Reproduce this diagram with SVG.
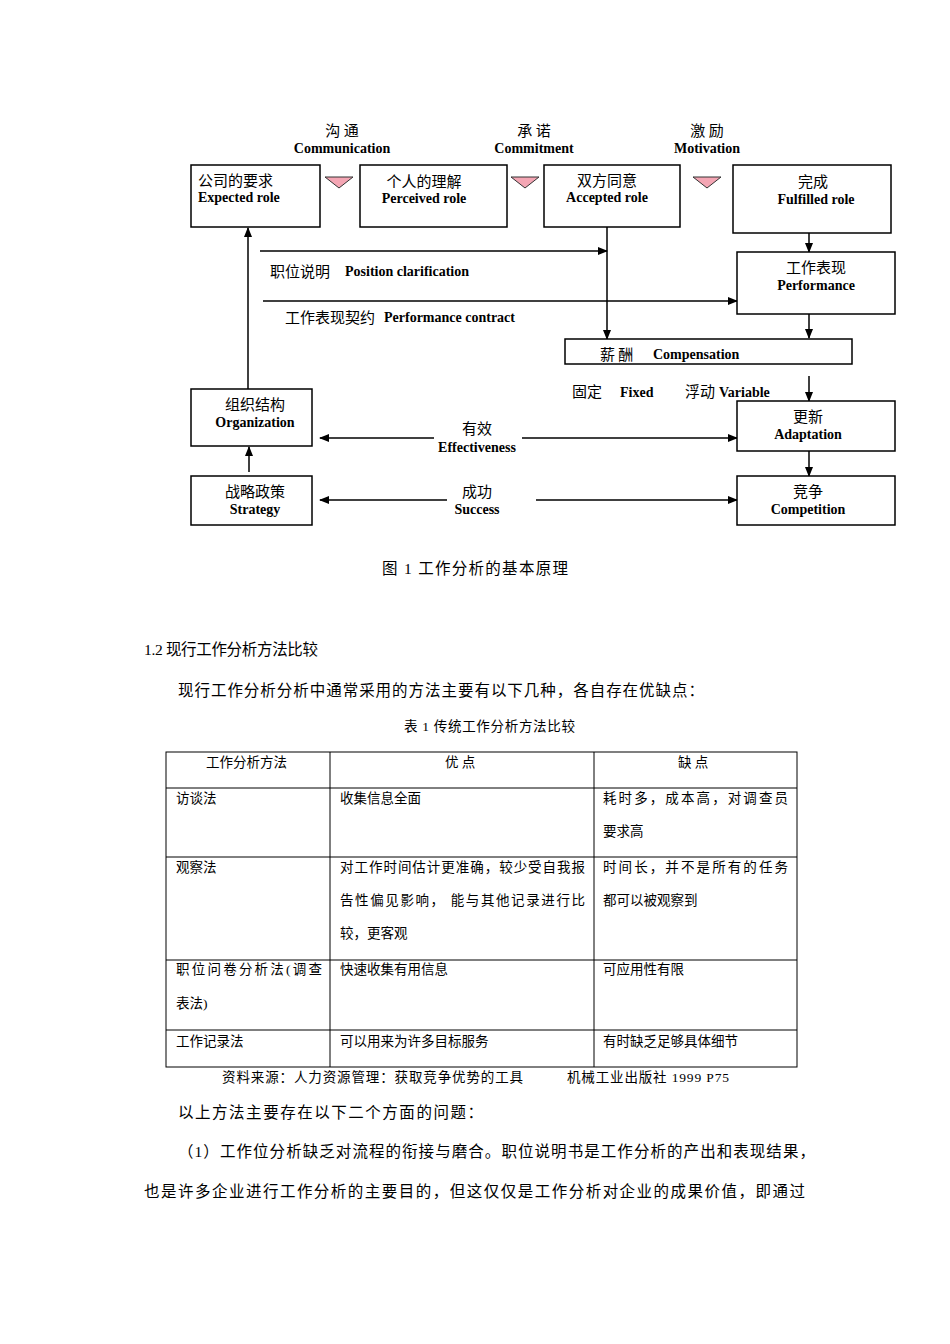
<svg xmlns="http://www.w3.org/2000/svg" width="950" height="1344" viewBox="0 0 950 1344">
<style>
.box{fill:#fff;stroke:#000;stroke-width:1.5}
.ln{stroke:#000;stroke-width:1.5;fill:none}
.tri{fill:#f4a6b4;stroke:#333;stroke-width:1}
.zh{font-family:"Noto Sans CJK SC","Noto Sans",sans-serif;font-size:15px;fill:#000}
.en{font-family:"Liberation Serif",serif;font-weight:bold;font-size:14px;fill:#000}
.c{text-anchor:middle}
.body{font-family:"Liberation Serif","Noto Sans CJK SC",serif;font-size:15.5px;fill:#000}
.tb{font-family:"Liberation Serif","Noto Sans CJK SC",serif;font-size:13.5px;fill:#000}
.tl{stroke:#000;stroke-width:1}
</style>
<defs>
<marker id="ah" markerWidth="10" markerHeight="8" refX="9" refY="4" orient="auto" markerUnits="userSpaceOnUse">
<path d="M0,0 L10,4 L0,8 Z" fill="#000"/>
</marker>
</defs>
<rect width="950" height="1344" fill="#fff"/>

<g id="headers">
<text class="zh c" x="342" y="136">沟 通</text>
<text class="en c" x="342" y="153">Communication</text>
<text class="zh c" x="534" y="136">承 诺</text>
<text class="en c" x="534" y="153">Commitment</text>
<text class="zh c" x="707" y="136">激 励</text>
<text class="en c" x="707" y="153">Motivation</text>
</g>
<g id="triangles">
<polygon class="tri" points="325,177 353,177 339,188"/>
<polygon class="tri" points="511,177 539,177 525,188"/>
<polygon class="tri" points="693,177 721,177 707,188"/>
</g>

<g id="connectors">
<line class="ln" x1="248" y1="389" x2="248" y2="228" marker-end="url(#ah)"/>
<line class="ln" x1="260" y1="251" x2="607" y2="251" marker-end="url(#ah)"/>
<line class="ln" x1="607" y1="227" x2="607" y2="339" marker-end="url(#ah)"/>
<line class="ln" x1="263" y1="301" x2="737" y2="301" marker-end="url(#ah)"/>
<line class="ln" x1="809" y1="233" x2="809" y2="252" marker-end="url(#ah)"/>
<line class="ln" x1="809" y1="314" x2="809" y2="338" marker-end="url(#ah)"/>
<line class="ln" x1="809" y1="376" x2="809" y2="401" marker-end="url(#ah)"/>
<line class="ln" x1="809" y1="451" x2="809" y2="476" marker-end="url(#ah)"/>
<line class="ln" x1="249" y1="472" x2="249" y2="447" marker-end="url(#ah)"/>
<line class="ln" x1="434" y1="438" x2="320" y2="438" marker-end="url(#ah)"/>
<line class="ln" x1="522" y1="438" x2="737" y2="438" marker-end="url(#ah)"/>
<line class="ln" x1="447" y1="500" x2="320" y2="500" marker-end="url(#ah)"/>
<line class="ln" x1="536" y1="500" x2="737" y2="500" marker-end="url(#ah)"/>
</g>

<g id="n-expected">
<rect class="box" x="191" y="165" width="129" height="62"/>
<text class="zh" x="198" y="186">公司的要求</text>
<text class="en" x="198" y="202">Expected role</text>
</g>
<g id="n-perceived">
<rect class="box" x="360" y="165" width="147" height="62"/>
<text class="zh c" x="424" y="187">个人的理解</text>
<text class="en c" x="424" y="203">Perceived role</text>
</g>
<g id="n-accepted">
<rect class="box" x="544" y="165" width="136" height="62"/>
<text class="zh c" x="607" y="186">双方同意</text>
<text class="en c" x="607" y="202">Accepted role</text>
</g>
<g id="n-fulfilled">
<rect class="box" x="733" y="165" width="158" height="68"/>
<text class="zh c" x="813" y="187">完成</text>
<text class="en c" x="816" y="204">Fulfilled role</text>
</g>
<g id="n-performance">
<rect class="box" x="737" y="252" width="158" height="62"/>
<text class="zh c" x="816" y="273">工作表现</text>
<text class="en c" x="816" y="290">Performance</text>
</g>
<g id="n-compensation">
<rect class="box" x="565" y="339" width="287" height="25"/>
<text class="zh" x="600" y="360">薪 酬</text>
<text class="en" x="653" y="359">Compensation</text>
</g>
<g id="labels">
<text class="zh" x="270" y="277">职位说明</text>
<text class="en" x="345" y="276">Position clarification</text>
<text class="zh" x="285" y="323">工作表现契约</text>
<text class="en" x="384" y="322">Performance contract</text>
<text class="zh" x="572" y="397">固定</text>
<text class="en" x="620" y="397">Fixed</text>
<text class="zh" x="685" y="397">浮动</text>
<text class="en" x="719" y="397">Variable</text>
<text class="zh c" x="477" y="434">有效</text>
<text class="en c" x="477" y="452">Effectiveness</text>
<text class="zh c" x="477" y="497">成功</text>
<text class="en c" x="477" y="514">Success</text>
</g>
<g id="n-adaptation">
<rect class="box" x="737" y="401" width="158" height="50"/>
<text class="zh c" x="808" y="422">更新</text>
<text class="en c" x="808" y="439">Adaptation</text>
</g>
<g id="n-competition">
<rect class="box" x="737" y="476" width="158" height="49"/>
<text class="zh c" x="808" y="497">竞争</text>
<text class="en c" x="808" y="514">Competition</text>
</g>
<g id="n-organization">
<rect class="box" x="191" y="389" width="121" height="57"/>
<text class="zh c" x="255" y="410">组织结构</text>
<text class="en c" x="255" y="427">Organization</text>
</g>
<g id="n-strategy">
<rect class="box" x="191" y="476" width="121" height="49"/>
<text class="zh c" x="255" y="497">战略政策</text>
<text class="en c" x="255" y="514">Strategy</text>
</g>

<g id="body">
<text class="body" x="382" y="574" textLength="186">图 1  工作分析的基本原理</text>
<text class="body" x="144" y="655" textLength="174">1.2 现行工作分析方法比较</text>
<text class="body" x="178" y="696" textLength="526">现行工作分析分析中通常采用的方法主要有以下几种，各自存在优缺点：</text>
<text class="tb" x="404" y="731" textLength="171">表 1 传统工作分析方法比较</text>
</g>

<g id="table">
<rect x="166" y="752" width="631" height="315" fill="none" stroke="#000" stroke-width="1"/>
<line class="tl" x1="330" y1="752" x2="330" y2="1067"/>
<line class="tl" x1="594" y1="752" x2="594" y2="1067"/>
<line class="tl" x1="166" y1="788" x2="797" y2="788"/>
<line class="tl" x1="166" y1="857" x2="797" y2="857"/>
<line class="tl" x1="166" y1="960" x2="797" y2="960"/>
<line class="tl" x1="166" y1="1030" x2="797" y2="1030"/>
<text class="tb" x="206" y="767">工作分析方法</text>
<text class="tb" x="445" y="767">优  点</text>
<text class="tb" x="678" y="767">缺  点</text>
<text class="tb" x="176" y="803">访谈法</text>
<text class="tb" x="340" y="803">收集信息全面</text>
<text class="tb" x="603" y="803" textLength="185">耗时多，成本高，对调查员</text>
<text class="tb" x="603" y="836">要求高</text>
<text class="tb" x="176" y="872">观察法</text>
<text class="tb" x="340" y="872" textLength="245">对工作时间估计更准确，较少受自我报</text>
<text class="tb" x="340" y="905" textLength="245">告性偏见影响，  能与其他记录进行比</text>
<text class="tb" x="340" y="938">较，更客观</text>
<text class="tb" x="603" y="872" textLength="185">时间长，并不是所有的任务</text>
<text class="tb" x="603" y="905">都可以被观察到</text>
<text class="tb" x="176" y="974" textLength="146">职位问卷分析法(调查</text>
<text class="tb" x="176" y="1008">表法)</text>
<text class="tb" x="340" y="974">快速收集有用信息</text>
<text class="tb" x="603" y="974">可应用性有限</text>
<text class="tb" x="176" y="1046">工作记录法</text>
<text class="tb" x="340" y="1046">可以用来为许多目标服务</text>
<text class="tb" x="603" y="1046">有时缺乏足够具体细节</text>
</g>
<g id="body2">
<text class="tb" x="222" y="1082" textLength="301">资料来源：人力资源管理：获取竞争优势的工具</text>
<text class="tb" x="567" y="1082" textLength="162">机械工业出版社  1999 P75</text>
<text class="body" x="178" y="1118" textLength="305">以上方法主要存在以下二个方面的问题：</text>
<text class="body" x="178" y="1157" textLength="637">（1）工作位分析缺乏对流程的衔接与磨合。职位说明书是工作分析的产出和表现结果，</text>
<text class="body" x="144" y="1197" textLength="661">也是许多企业进行工作分析的主要目的，但这仅仅是工作分析对企业的成果价值，即通过</text>
</g>
</svg>
